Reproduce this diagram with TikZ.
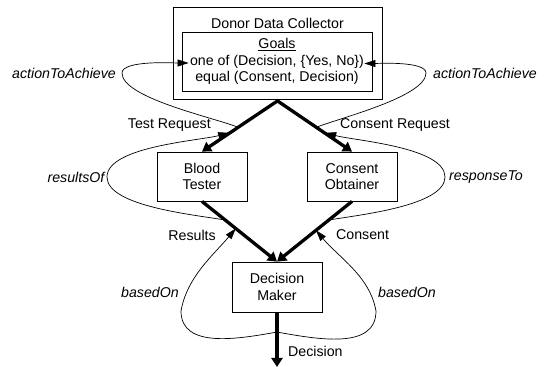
\documentclass[tikz,border=0pt]{standalone}
\usepackage{fontspec}
\setmainfont{Liberation Sans}
\usetikzlibrary{arrows.meta}

\begin{document}
\begin{tikzpicture}[x=1pt, y=1pt,
  box/.style = {draw = black, line width=0.8pt, minimum width=90pt, minimum height=49pt, align=center, inner sep=0pt, font=\fontsize{14.2}{16.6}\selectfont},
  flow/.style = {line width=3.3pt, miter limit=4, -{Triangle[length=9pt, width=11pt]}},
  link/.style = {line width=0.7pt, -{Triangle[length=11pt, width=7pt]}},
  lbl/.style = {inner sep=0pt, font=\fontsize{14.2}{16.6}\selectfont},
  rel/.style = {inner sep=0pt, font=\fontsize{14.2}{16.6}\selectfont\itshape}]
\useasboundingbox (0,0) rectangle (544,367);

%draw boxes
\node[box, minimum width=209pt, minimum height=92pt] (collector) at (277.5, 314) {};
\node[lbl] (title) at (277.5, 344) {Donor Data Collector};
\node[box, minimum width=190pt, minimum height=59pt] (goals) at (277, 305.5) {\underline{Goals}\\one of (Decision, \{Yes, No\})\\equal (Consent, Decision)};
\node[box] (tester) at (202, 190.5) {Blood\\Tester};
\node[box] (obtainer) at (352, 190.5) {Consent\\Obtainer};
\node[box, minimum height=50pt] (maker) at (277, 80) {Decision\\Maker};
\coordinate (out) at (277, 0);

%draw message flows
\draw[flow, {Triangle[length=9pt, width=11pt]}-{Triangle[length=9pt, width=11pt]}] (tester.north) -- ([yshift=-1.5pt]collector.south) -- (obtainer.north);
\draw[flow] (tester.south) -- (maker.north);
\draw[flow] (obtainer.south) -- (maker.north);
\draw[flow] (maker.south) -- (out);

%points on the flows
\path (collector.south) -- (tester.north) coordinate[pos=0.53] (req1) coordinate[pos=0.64] (req2);
\path (collector.south) -- (obtainer.north) coordinate[pos=0.53] (creq1) coordinate[pos=0.64] (creq2);
\path (tester.south) -- (maker.north) coordinate[pos=0.31] (res1) coordinate[pos=0.45] (res2);
\path (obtainer.south) -- (maker.north) coordinate[pos=0.31] (cons1) coordinate[pos=0.48] (cons2);
\path (maker.south) -- (out) coordinate[pos=0.36] (dec1);

%flow labels
\node[lbl, anchor=east] (testreq) at (211, 242) {Test Request};
\node[lbl, anchor=west] (consreq) at (340, 242) {Consent Request};
\node[lbl, anchor=east] (results) at (216, 132) {Results};
\node[lbl, anchor=west] (consent) at (336, 132) {Consent};
\node[lbl, anchor=west] (decision) at (288, 16) {Decision};

%draw relations
\coordinate (achL) at (122, 294);
\coordinate (achR) at (426, 294);
\coordinate (resL) at (107, 190);
\coordinate (resR) at (445, 190);
\coordinate (basL) at (181, 56);
\coordinate (basR) at (376, 56);
\draw[link] (req1) to[out=158, in=-90, looseness=0.5] (achL) to[out=90, in=180, looseness=0.5] ([xshift=7pt, yshift=-1.5pt]goals.west);
\draw[link] (creq1) to[out=22, in=-90, looseness=0.5] (achR) to[out=90, in=0, looseness=0.5] ([xshift=-8pt, yshift=-2pt]goals.east);
\draw[link] (res1) to[out=170, in=-90, looseness=0.6] (resL) to[out=90, in=195, looseness=0.6] (req2);
\draw[link] (cons1) to[out=10, in=-90, looseness=0.6] (resR) to[out=90, in=-15, looseness=0.6] (creq2);
\draw[link] (dec1) to[out=190, in=-90] (basL) to[out=80, in=230, looseness=0.9] (res2);
\draw[link] (dec1) to[out=-10, in=-90] (basR) to[out=100, in=-50, looseness=0.9] (cons2);

\node[rel] (achleft) at (64, 294) {actionToAchieve};
\node[rel] (achright) at (485, 294) {actionToAchieve};
\node[rel] (resof) at (76, 190) {resultsOf};
\node[rel] (respto) at (486, 190) {responseTo};
\node[rel] (basedleft) at (150, 75) {basedOn};
\node[rel] (basedright) at (407, 75) {basedOn};
\end{tikzpicture}
\end{document}
